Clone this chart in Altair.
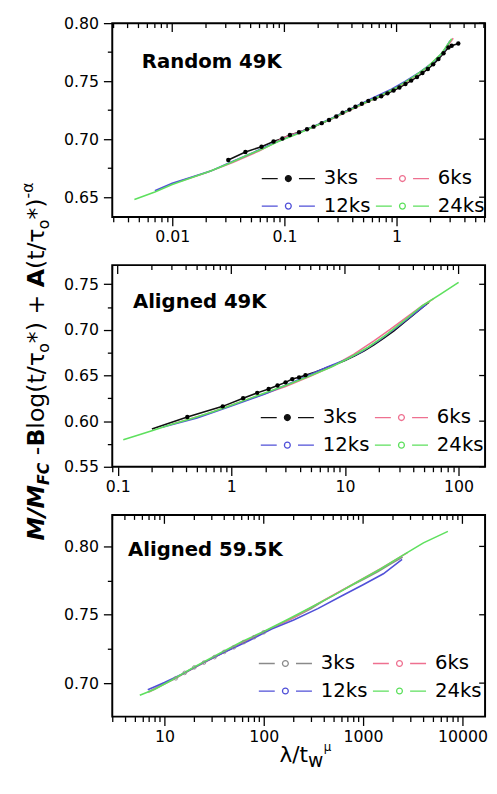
import math
import altair as alt
import pandas as pd

SERIES = ["3ks", "6ks", "12ks", "24ks"]
COLORS_A = ["#111111", "#ee7090", "#5050d8", "#5ee05e"]
COLORS_B = ["#8a8a8a", "#ee7090", "#5050d8", "#5ee05e"]

# ---------------- Panel 1 : Random 49K ----------------
p1_3ks_x = [0.0316, 0.0449, 0.0625, 0.080, 0.096, 0.112, 0.135, 0.159, 0.182, 0.215, 0.25, 0.29,
            0.33, 0.38, 0.43, 0.49, 0.56, 0.64, 0.73, 0.83, 0.94, 1.06, 1.2, 1.35, 1.52, 1.7, 1.9,
            2.12, 2.36, 2.62, 2.9, 3.1, 3.55]
p1_3ks_y = [0.682, 0.689, 0.6935, 0.698, 0.7006, 0.7036, 0.706, 0.7085, 0.7108, 0.7138, 0.7165, 0.7195,
            0.7228, 0.7255, 0.728, 0.7305, 0.733, 0.7348, 0.737, 0.7395, 0.742, 0.7445, 0.7475, 0.7505,
            0.7535, 0.757, 0.7605, 0.7645, 0.769, 0.774, 0.779, 0.7805, 0.7825]
p1_6ks_x = [0.012, 0.02, 0.035, 0.06, 0.1, 0.17, 0.3, 0.5, 0.8, 1.2, 1.8, 2.5, 3.2]
p1_6ks_y = [0.664, 0.671, 0.680, 0.690, 0.7015, 0.7095, 0.720, 0.730, 0.7395, 0.7485, 0.7605, 0.773, 0.787]
p1_12ks_x = [0.007, 0.01, 0.015, 0.022, 0.032, 0.05, 0.08, 0.12, 0.18, 0.27, 0.4, 0.6, 0.9, 1.2, 1.6,
             2.1, 2.6, 3.0]
p1_12ks_y = [0.6555, 0.662, 0.6675, 0.6725, 0.6795, 0.6875, 0.6965, 0.7035, 0.7108, 0.7185, 0.7265,
             0.735, 0.743, 0.750, 0.7575, 0.766, 0.775, 0.785]
p1_24ks_x = [0.0046, 0.007, 0.01, 0.015, 0.022, 0.032, 0.046, 0.065, 0.09, 0.13, 0.18, 0.26, 0.36,
             0.5, 0.7, 1.0, 1.4, 1.9, 2.5, 3.1]
p1_24ks_y = [0.648, 0.6545, 0.661, 0.667, 0.6725, 0.679, 0.686, 0.692, 0.6985, 0.7045, 0.7105, 0.7175,
             0.724, 0.7305, 0.737, 0.7445, 0.7535, 0.7625, 0.7735, 0.7865]
p1_dots_x = p1_3ks_x
p1_dots_y = p1_3ks_y

# ---------------- Panel 2 : Aligned 49K ----------------
p2_3ks_x = [0.2, 0.41, 0.84, 1.27, 1.69, 2.13, 2.55, 3.0, 3.44, 3.95, 4.49, 5.5, 6.7, 8.2, 10, 12.2,
            14.8, 18, 22, 27, 33, 40, 49, 55]
p2_3ks_y = [0.5915, 0.6046, 0.6162, 0.6252, 0.631, 0.6353, 0.639, 0.6425, 0.6461, 0.648, 0.6504, 0.654,
            0.658, 0.662, 0.6665, 0.6715, 0.677, 0.6835, 0.691, 0.699, 0.708, 0.7165, 0.7255, 0.7305]
p2_6ks_x = [0.3, 0.6, 1.0, 1.8, 3, 5, 8, 12, 18, 25, 35, 48, 60]
p2_6ks_y = [0.5965, 0.6075, 0.6175, 0.6285, 0.638, 0.6495, 0.661, 0.6735, 0.688, 0.7005, 0.714, 0.7265, 0.734]
p2_12ks_x = [0.25, 0.5, 1, 2, 4, 7, 10, 14, 20, 28, 40, 52]
p2_12ks_y = [0.5935, 0.6035, 0.6165, 0.630, 0.646, 0.6595, 0.667, 0.676, 0.6885, 0.702, 0.717, 0.728]
p2_24ks_x = [0.112, 0.15, 0.2, 0.3, 0.45, 0.7, 1.0, 1.5, 2.2, 3.3, 5, 7.5, 11, 16, 23, 33, 48, 70, 100]
p2_24ks_y = [0.5795, 0.5845, 0.5895, 0.5965, 0.603, 0.6105, 0.6175, 0.6255, 0.633, 0.641, 0.650, 0.659,
             0.6695, 0.681, 0.6945, 0.710, 0.7265, 0.7395, 0.752]
p2_dots_x = [0.41, 0.84, 1.27, 1.69, 2.13, 2.55, 3.0, 3.44, 3.95, 4.49]
p2_dots_y = [0.6046, 0.6162, 0.6252, 0.631, 0.6353, 0.639, 0.6425, 0.6461, 0.648, 0.6504]

# ---------------- Panel 3 : Aligned 59.5K ----------------
p3_3ks_x = [6.8, 8.5, 10, 13, 16, 20, 25, 32, 40, 50, 63, 80, 100, 130, 170, 220, 300, 400, 550, 750,
            1000, 1400, 1900, 2500]
p3_3ks_y = [0.6934, 0.697, 0.6995, 0.7035, 0.7075, 0.7115, 0.715, 0.719, 0.7228, 0.7262, 0.730, 0.7336,
            0.7372, 0.7413, 0.7455, 0.7495, 0.7545, 0.7602, 0.7658, 0.7712, 0.7758, 0.7815, 0.7872, 0.7922]
p3_6ks_x = [7, 12, 25, 50, 100, 200, 400, 800, 1500, 2800]
p3_6ks_y = [0.6935, 0.7025, 0.715, 0.7262, 0.7375, 0.748, 0.7605, 0.7725, 0.7838, 0.7955]
p3_12ks_x = [6.8, 10, 15, 25, 40, 70, 120, 200, 350, 600, 1000, 1600, 2470]
p3_12ks_y = [0.6952, 0.7005, 0.7065, 0.7152, 0.7225, 0.7308, 0.7395, 0.7462, 0.7545, 0.7635, 0.772,
             0.780, 0.7905]
p3_24ks_x = [5.65, 8, 12, 20, 35, 60, 100, 170, 300, 500, 900, 1500, 2500, 4050, 7140]
p3_24ks_y = [0.6911, 0.6955, 0.7025, 0.7118, 0.7213, 0.7303, 0.7378, 0.7462, 0.7555, 0.7640, 0.7745,
             0.7835, 0.7935, 0.8026, 0.811]
p3_dots_x = [13, 16, 20, 25, 32, 40, 50, 63, 80, 100]
p3_dots_y = [0.7035, 0.7075, 0.7115, 0.715, 0.719, 0.7228, 0.7262, 0.730, 0.7336, 0.7372]

PANEL_TITLES = ["Random 49K", "Aligned 49K", "Aligned 59.5K"]

# ---------------- layout / style ----------------
FONT = "DejaVu Sans"
PLOT_W = 379
H1, H2, H3 = 197, 205, 205
X1_DOM, Y1_DOM = [0.00292, 6.15], [0.633, 0.80]
X2_DOM, Y2_DOM = [0.0896, 171.0], [0.55, 0.771]
X3_DOM, Y3_DOM = [2.985, 16900.0], [0.6755, 0.823]

MAJ_LOG = "abs(log(datum.value)/LN10 - round(log(datum.value)/LN10)) < 0.001"
MAJ_Y = "abs(datum.value*20 - round(datum.value*20)) < 0.001"
SYM = "M-1,0H-0.4M0.4,0H1M-0.11,0A0.11,0.11,0,1,1,0.11,0A0.11,0.11,0,1,1,-0.11,0Z"
ONE = pd.DataFrame({"k": [0]})

COMMON = dict(tickColor="black", tickWidth=1.3, domain=False, grid=False, title=None,
              labelFont=FONT, labelFontSize=16, labelColor="black",
              labelOverlap=False, labelFlush=False)
XTICK = {"condition": {"test": MAJ_LOG, "value": 9}, "value": 5}


def log_ticks(lo, hi):
    out = []
    for k in range(-4, 6):
        for m in range(1, 10):
            v = float(f"{m}e{k}")
            if lo <= v <= hi:
                out.append(v)
    return out


def lin_ticks(lo, hi, step=0.025):
    out = []
    i = int(lo / step) - 1
    while i * step <= hi + 1e-9:
        v = round(i * step, 4)
        if lo - 1e-9 <= v <= hi + 1e-9:
            out.append(v)
        i += 1
    return out


def make_df(triples):
    rows = []
    for name, xs, ys in triples:
        for a, b in zip(xs, ys):
            rows.append({"series": name, "x": a, "y": b})
    return pd.DataFrame(rows)


def txt(s, x, y, size, weight="normal", style="normal", angle=0):
    return alt.Chart(ONE).mark_text(
        text=s, font=FONT, fontSize=size, fontWeight=weight, fontStyle=style,
        angle=angle, align="left", baseline="alphabetic", color="black"
    ).encode(x=alt.value(x), y=alt.value(y))


def panel(triples, dots_x, dots_y, dot_filled, xdom, ydom, h, colors, fill_expr,
          leg_x, leg_y, title, title_x, title_y, extra):
    df = make_df(triples)
    dots = pd.DataFrame({"x": dots_x, "y": dots_y})
    xt = log_ticks(*xdom)
    yt = lin_ticks(*ydom)
    x_major = [v for v in xt if abs(math.log10(v) - round(math.log10(v))) < 1e-6]
    x_minor = [v for v in xt if v not in x_major]
    ymaj = [v for v in yt if abs(v * 20 - round(v * 20)) < 1e-6]
    xs = alt.Scale(type="log", domain=xdom, nice=False)
    ys = alt.Scale(domain=ydom, nice=False, zero=False)

    x_bottom = alt.Axis(orient="bottom", values=xt,
                        labelExpr=f"{MAJ_LOG} ? format(datum.value, '~g') : ''",
                        tickSize=XTICK, labelPadding=3, **COMMON)
    y_left = alt.Axis(orient="left", values=yt,
                      labelExpr=f"{MAJ_Y} ? format(datum.value, '.2f') : ''",
                      tickSize={"condition": {"test": MAJ_Y, "value": 9}, "value": 5},
                      labelPadding=5, **COMMON)

    leg = alt.Legend(orient="none", legendX=leg_x, legendY=leg_y, columns=2, gridAlign="none",
                     direction="horizontal",
                     columnPadding=4, rowPadding=6, clipHeight=22, symbolType=SYM,
                     symbolSize=54 * 54, symbolStrokeWidth=1.3, labelFont=FONT, labelFontSize=20,
                     labelColor="black", labelOffset=8, padding=0, title=None,
                     symbolFillColor={"expr": fill_expr})

    X = alt.X("x:Q", scale=xs, axis=x_bottom)
    Y = alt.Y("y:Q", scale=ys, axis=y_left)

    lines = alt.Chart(df).mark_line(strokeWidth=1.6).encode(
        x=X, y=Y,
        color=alt.Color("series:N", scale=alt.Scale(domain=SERIES, range=colors), legend=leg),
    )
    if dot_filled:
        pmark = alt.Chart(dots).mark_point(filled=True, size=20, color="black", opacity=1)
    else:
        pmark = alt.Chart(dots).mark_point(filled=False, size=14, color=colors[0],
                                           strokeWidth=0.8, opacity=1)
    pts = pmark.encode(x=X, y=Y)

    # inward mirror ticks on the top and right frame edges, placed through the scales
    top_major = alt.Chart(pd.DataFrame({"x": x_major})).mark_rule(color="black", strokeWidth=1.3).encode(
        x=X, y=alt.value(0), y2=alt.value(9))
    top_minor = alt.Chart(pd.DataFrame({"x": x_minor})).mark_rule(color="black", strokeWidth=1.3).encode(
        x=X, y=alt.value(0), y2=alt.value(5))
    right_t = alt.Chart(pd.DataFrame({"y": ymaj})).mark_rule(color="black", strokeWidth=1.3).encode(
        y=Y, x=alt.value(PLOT_W - 6), x2=alt.value(PLOT_W))

    layers = [lines, pts, top_major, top_minor, right_t,
              txt(title, title_x, title_y, 20, weight="bold")] + extra
    return alt.layer(*layers).properties(width=PLOT_W, height=h)


# ---------------- y title (rotated, with sub/superscripts) ----------------
W_REG = {" ": .318, "(": .390, ")": .390, "*": .500, "+": .838, "-": .361, "/": .337, "l": .278,
         "o": .612, "g": .635, "t": .392, "τ": .57, "α": .66, "λ": .592, "w": .818}
W_BOLD = {"M": .995, "/": .365, "F": .683, "C": .734, "B": .762, "A": .774}
YT = [("M/M", True, True, 24, 0), ("FC", True, True, 16, 5), (" ", False, False, 24, 0),
      ("-", False, False, 24, 0), ("B", True, False, 24, 0), ("log(t/τ", False, False, 24, 0),
      ("o", False, False, 16, 5), ("*)", False, False, 24, 0), (" ", False, False, 24, 0),
      ("+", False, False, 24, 0), (" ", False, False, 24, 0), ("A", True, False, 24, 0),
      ("(t/τ", False, False, 24, 0), ("o", False, False, 16, 5), ("*)", False, False, 24, 0),
      ("-α", False, False, 16, -12)]
ytitle = []
cum = 0.0
for s, b, it, size, shift in YT:
    table = W_BOLD if b else W_REG
    if s.strip():
        ytitle.append(txt(s, -69 + shift, 280 - cum, size,
                          weight="bold" if b else "normal",
                          style="italic" if it else "normal", angle=270))
    cum += sum(table.get(c, W_REG.get(c, .6)) for c in s) * size

# ---------------- x title ----------------
xtitle = [txt("λ/t", 170, 251, 22), txt("w", 170 + (.592 + .337 + .392) * 22, 256, 19),
          txt("μ", 215, 240, 12)]

fill_dot = "datum.value === '3ks' ? '#111111' : 'transparent'"
fill_none = "'transparent'"

p1 = panel([("3ks", p1_3ks_x, p1_3ks_y), ("6ks", p1_6ks_x, p1_6ks_y),
            ("12ks", p1_12ks_x, p1_12ks_y), ("24ks", p1_24ks_x, p1_24ks_y)],
           p1_dots_x, p1_dots_y, True, X1_DOM, Y1_DOM, H1, COLORS_A, fill_dot,
           151, 147, PANEL_TITLES[0], 30, 46, [])
p2 = panel([("3ks", p2_3ks_x, p2_3ks_y), ("6ks", p2_6ks_x, p2_6ks_y),
            ("12ks", p2_12ks_x, p2_12ks_y), ("24ks", p2_24ks_x, p2_24ks_y)],
           p2_dots_x, p2_dots_y, True, X2_DOM, Y2_DOM, H2, COLORS_A, fill_dot,
           150, 144, PANEL_TITLES[1], 21, 44, ytitle)
p3 = panel([("3ks", p3_3ks_x, p3_3ks_y), ("6ks", p3_6ks_x, p3_6ks_y),
            ("12ks", p3_12ks_x, p3_12ks_y), ("24ks", p3_24ks_x, p3_24ks_y)],
           p3_dots_x, p3_dots_y, False, X3_DOM, Y3_DOM, H3, COLORS_B, fill_none,
           148, 140, PANEL_TITLES[2], 16, 42, xtitle)

chart = alt.vconcat(p1, p2, p3, spacing=49, bounds="flush").resolve_scale(
    color="independent"
).properties(
    padding={"left": 11, "top": 0, "right": 0, "bottom": 0}
).configure_view(stroke="black", strokeWidth=2)

chart.save("out.html", embed_options={"renderer": "svg", "actions": False})
